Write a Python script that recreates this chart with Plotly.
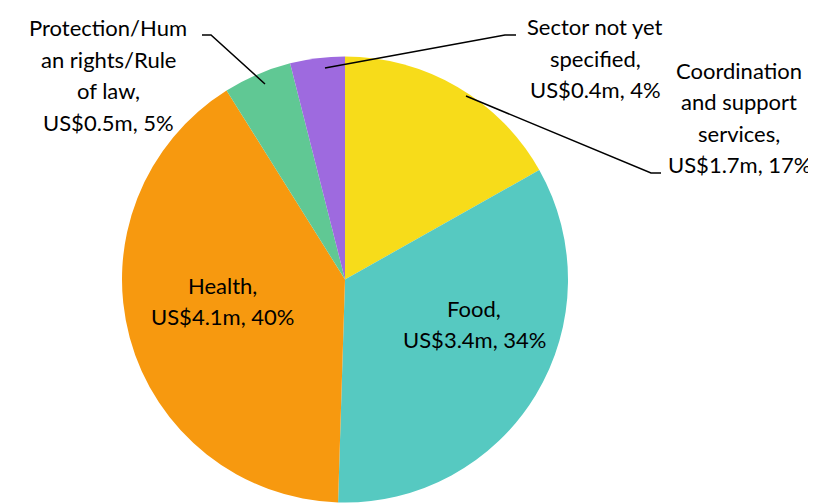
import plotly.graph_objects as go

W, H = 816, 504

categories = ["Coordination and support services", "Food", "Health",
              "Protection/Human rights/Rule of law", "Sector not yet specified"]
values = [1.7, 3.4, 4.1, 0.5, 0.4]
labels = [
    "Coordination<br>and support<br>services,<br>US$1.7m, 17%",
    "Food,<br>US$3.4m, 34%",
    "Health,<br>US$4.1m, 40%",
    "Protection/Hum<br>an rights/Rule<br>of law,<br>US$0.5m, 5%",
    "Sector not yet<br>specified,<br>US$0.4m, 4%",
]
colors = ["#F7DC1A", "#56C9C1", "#F7990F", "#60C894", "#9E6ADF"]

# label placement (pixel centre of first line) and line spacing
label_pos = [(731, 62), (466, 300), (214, 277), (100, 20), (587, 19)]
line_gap = 31.5

# leader lines (pixels)
leaders = [
    [(458, 88), (643, 165), (653, 165)],
    None,
    None,
    [(194, 27), (203, 27), (257, 76)],
    [(317, 60), (497, 27), (508, 27)],
]

# empirical correction: plotly renders the domain ~8px lower/right
cx, cy, r = 345 - 8, 279.5 - 8, 223


def px(x):
    return x / W


def py(y):
    return 1 - y / H


fig = go.Figure(go.Pie(
    labels=categories,
    values=values,
    text=labels,
    textinfo="none",
    sort=False,
    direction="clockwise",
    rotation=0,
    marker=dict(colors=colors, line=dict(width=0)),
    domain=dict(x=[px(cx - r), px(cx + r)], y=[py(cy + r), py(cy - r)]),
    showlegend=False,
    hoverinfo="label+value+percent",
))

annotations = []
for lab, (x0, y0) in zip(labels, label_pos):
    for i, line in enumerate(lab.split("<br>")):
        annotations.append(dict(
            x=px(x0), y=py(y0 + i * line_gap), xref="paper", yref="paper",
            text=line, showarrow=False, xanchor="center", yanchor="middle",
            font=dict(family="Lato", size=22, color="#000000"),
        ))

shapes = []
for pts in leaders:
    if not pts:
        continue
    path = "M " + " L ".join(f"{px(x)},{py(y)}" for x, y in pts)
    shapes.append(dict(type="path", path=path, xref="paper", yref="paper",
                       line=dict(color="#000000", width=1.5)))

fig.update_layout(
    width=W, height=H,
    margin=dict(l=0, r=0, t=0, b=0),
    paper_bgcolor="white", plot_bgcolor="white",
    annotations=annotations, shapes=shapes,
)

fig.write_html("out.html")
